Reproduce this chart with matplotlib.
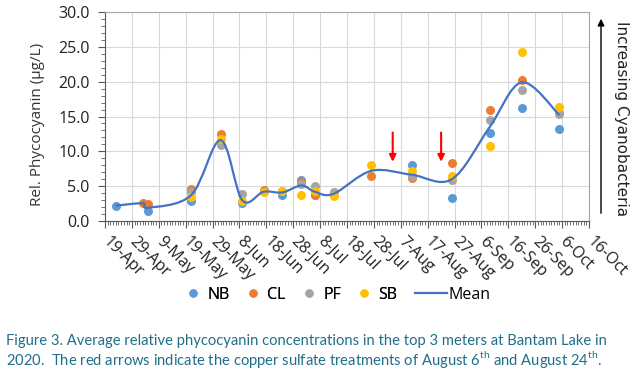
import matplotlib
matplotlib.use("Agg")
import matplotlib.pyplot as plt
import matplotlib.dates as mdates
from matplotlib.path import Path
from matplotlib.patches import PathPatch, FancyArrowPatch
from matplotlib.lines import Line2D
from matplotlib.ticker import MultipleLocator, FixedLocator, FixedFormatter, FormatStrFormatter
from datetime import datetime
import numpy as np

# ---------------- data ----------------
sample_dates = ["2020-04-23", "2020-05-03", "2020-05-05", "2020-05-21", "2020-06-01",
                "2020-06-09", "2020-06-17", "2020-06-24", "2020-07-01", "2020-07-06",
                "2020-07-13", "2020-07-27", "2020-08-11", "2020-08-26", "2020-09-09",
                "2020-09-21", "2020-10-05"]
NB = [2.2, None, 1.4, 2.9, None, 2.6, None, 3.8, 5.9, 3.8, None, None, 8.1, 3.3, 12.6, 16.2, 13.2]
CL = [None, 2.6, 2.4, 4.6, 12.5, None, 4.4, None, 5.55, 3.8, None, 6.5, 6.2, 8.3, 15.9, 20.3, 15.5]
PF = [None, None, None, 4.2, 10.9, 3.9, None, 4.3, 5.3, 5.0, 4.2, None, 6.5, 5.9, 14.5, 18.8, 15.3]
SB = [None, None, None, 3.4, 11.7, 2.9, 4.1, 4.35, 3.7, 4.35, 3.6, 8.0, 7.2, 6.4, 10.8, 24.3, 16.3]
MEAN = [2.2, 2.55, 1.9, 3.7, 11.6, 3.0, 4.2, 4.1, 5.1, 4.2, 3.9, 7.2, 6.65, 6.0, 13.45, 19.9, 15.2]

tick_labels = ["19-Apr", "29-Apr", "9-May", "19-May", "29-May", "8-Jun", "18-Jun", "28-Jun",
               "8-Jul", "18-Jul", "28-Jul", "7-Aug", "17-Aug", "27-Aug", "6-Sep", "16-Sep",
               "26-Sep", "6-Oct", "16-Oct"]
treatment_dates = ["2020-08-04", "2020-08-22"]

series_names = ["NB", "CL", "PF", "SB"]
series_colors = ["#5b9bd5", "#ed7d31", "#a5a5a5", "#ffc000"]
mean_color = "#4472c4"

# ---------------- figure ----------------
plt.rcParams['font.family'] = ['Open Sans', 'DejaVu Sans']
plt.rcParams['mathtext.fontset'] = 'custom'
plt.rcParams['mathtext.rm'] = 'Lato'

fig = plt.figure(figsize=(6.39, 3.72), dpi=100)
ax = fig.add_axes([105/639, 1-221/372, 484/639, 209/372])

xd = mdates.date2num([datetime.strptime(d, "%Y-%m-%d") for d in sample_dates])
ticks = mdates.date2num([datetime.strptime(t + "-2020", "%d-%b-%Y") for t in tick_labels])

for name, vals, col in zip(series_names, [NB, CL, PF, SB], series_colors):
    xs = [x for x, v in zip(xd, vals) if v is not None]
    ys = [v for v in vals if v is not None]
    ax.scatter(xs, ys, s=42, color=col, zorder=3, linewidths=0, label=name)

# smoothed mean line (Catmull-Rom style Bezier through the mean points)
pts = np.column_stack([xd, MEAN])
verts = [tuple(pts[0])]
codes = [Path.MOVETO]
n = len(pts)
for i in range(n - 1):
    p0 = pts[i - 1] if i > 0 else pts[i]
    p1 = pts[i]
    p2 = pts[i + 1]
    p3 = pts[i + 2] if i + 2 < n else pts[i + 1]
    c1 = p1 + (p2 - p0) / 6.0
    c2 = p2 - (p3 - p1) / 6.0
    verts += [tuple(c1), tuple(c2), tuple(p2)]
    codes += [Path.CURVE4] * 3
ax.add_patch(PathPatch(Path(verts, codes), fill=False, edgecolor=mean_color, lw=1.6, zorder=4))

# treatment arrows
for d in treatment_dates:
    xa = mdates.date2num(datetime.strptime(d, "%Y-%m-%d"))
    ax.annotate("", xy=(xa, 8.5), xytext=(xa, 12.7),
                arrowprops=dict(arrowstyle="-|>", color="red", lw=1.5,
                                mutation_scale=10, shrinkA=0, shrinkB=0), zorder=5)

ax.set_xlim(ticks[0], ticks[-1])
ax.set_ylim(0, 30)
ax.xaxis.set_major_locator(FixedLocator(ticks))
ax.xaxis.set_major_formatter(FixedFormatter(tick_labels))
ax.xaxis.set_minor_locator(MultipleLocator(1))
ax.yaxis.set_major_locator(MultipleLocator(5))
ax.yaxis.set_minor_locator(MultipleLocator(1))
ax.yaxis.set_major_formatter(FormatStrFormatter("%.1f"))

ax.grid(True, which="major", color="#d9d9d9", lw=0.8)
ax.set_axisbelow(True)
for sp in ax.spines.values():
    sp.set_color("#a6a6a6")
    sp.set_linewidth(0.8)
ax.spines['left'].set_color("#595959")
ax.spines['bottom'].set_color("#595959")

ax.tick_params(axis="both", which="major", direction="out", length=5, width=0.8,
               color="#595959", labelsize=11.5, labelcolor="#222222")
ax.tick_params(axis="both", which="minor", direction="out", length=3, width=0.6, color="#595959")
ax.tick_params(axis="y", pad=6)
for lab in ax.get_xticklabels():
    lab.set_rotation(-45)
    lab.set_ha("left")
    lab.set_va("center")
    lab.set_rotation_mode("anchor")
ax.tick_params(axis="x", pad=8)

ax.set_ylabel("Rel. Phycocyanin (µg/L)", fontsize=11, color="#333333")
ax.yaxis.set_label_coords(-0.124, 0.462)

# legends (dots and mean line use different handle lengths)
dot_handles = [Line2D([], [], ls="none", marker="o", ms=5, mfc=c, mec=c) for c in series_colors]
leg1 = fig.legend(dot_handles, series_names, loc="center", ncol=4,
                  bbox_to_anchor=(292/639, 1-295/372), frameon=False, fontsize=11.5,
                  handlelength=0.8, columnspacing=1.05, handletextpad=0.5)
fig.add_artist(leg1)
fig.legend([Line2D([], [], color=mean_color, lw=1.6)], ["Mean"], loc="center",
           bbox_to_anchor=(453/639, 1-295/372), frameon=False, fontsize=11.5,
           handlelength=2.0, handletextpad=0.1)

# right annotation
fig.add_artist(FancyArrowPatch((601/639, 1-216/372), (601/639, 1-16/372),
                               transform=fig.transFigure, arrowstyle="-|>",
                               mutation_scale=10, color="black", lw=1.0))
fig.text(622/639, 1-119/372, "Increasing Cyanobacteria", rotation=-90, ha="center", va="center",
         fontsize=11, family="DejaVu Sans", color="#222222")

# caption
cap_color = "#1f6f8b"
fig.text(6/639, 1-341/372,
         "Figure 3. Average relative phycocyanin concentrations in the top 3 meters at Bantam Lake in",
         fontsize=10.6, family="Lato", color=cap_color, ha="left", va="center")
fig.text(6/639, 1-359/372,
         "2020.  The red arrows indicate the copper sulfate treatments of August 6$^{\\mathrm{th}}$ and August 24$^{\\mathrm{th}}$.",
         fontsize=10.6, family="Lato", color=cap_color, ha="left", va="center")

fig.savefig("out.png", dpi=100)
